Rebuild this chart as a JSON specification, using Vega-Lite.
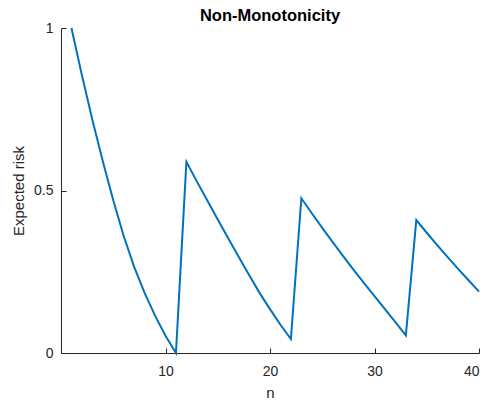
{
  "$schema": "https://vega.github.io/schema/vega-lite/v6.json",
  "autosize": "none",
  "width": 418,
  "height": 325,
  "padding": {"left": 61, "top": 28, "right": 8, "bottom": 47},
  "background": "white",
  "config": {
    "view": {"stroke": null},
    "font": "Liberation Sans",
    "axis": {
      "domainColor": "#262626",
      "tickColor": "#262626",
      "labelColor": "#262626",
      "titleColor": "#262626",
      "grid": false,
      "labelFontSize": 14,
      "titleFontSize": 15,
      "titleFontWeight": "normal",
      "tickSize": -5,
      "domainWidth": 1,
      "tickWidth": 1
    }
  },
  "title": {
    "text": "Non-Monotonicity",
    "fontSize": 16.5,
    "fontWeight": "bold",
    "color": "black",
    "anchor": "middle",
    "offset": -3
  },
  "data": {
    "values": [
      {"n": 1, "risk": 1.0},
      {"n": 2, "risk": 0.855},
      {"n": 3, "risk": 0.718},
      {"n": 4, "risk": 0.59},
      {"n": 5, "risk": 0.47},
      {"n": 6, "risk": 0.36},
      {"n": 7, "risk": 0.265},
      {"n": 8, "risk": 0.185},
      {"n": 9, "risk": 0.115},
      {"n": 10, "risk": 0.053},
      {"n": 11, "risk": 0.0},
      {"n": 12, "risk": 0.588},
      {"n": 13, "risk": 0.528},
      {"n": 14, "risk": 0.469},
      {"n": 15, "risk": 0.411},
      {"n": 16, "risk": 0.353},
      {"n": 17, "risk": 0.296},
      {"n": 18, "risk": 0.24},
      {"n": 19, "risk": 0.185},
      {"n": 20, "risk": 0.135},
      {"n": 21, "risk": 0.087},
      {"n": 22, "risk": 0.043},
      {"n": 23, "risk": 0.476},
      {"n": 24, "risk": 0.43},
      {"n": 25, "risk": 0.385},
      {"n": 26, "risk": 0.341},
      {"n": 27, "risk": 0.298},
      {"n": 28, "risk": 0.256},
      {"n": 29, "risk": 0.215},
      {"n": 30, "risk": 0.175},
      {"n": 31, "risk": 0.135},
      {"n": 32, "risk": 0.095},
      {"n": 33, "risk": 0.054},
      {"n": 34, "risk": 0.409},
      {"n": 35, "risk": 0.37},
      {"n": 36, "risk": 0.332},
      {"n": 37, "risk": 0.295},
      {"n": 38, "risk": 0.259},
      {"n": 39, "risk": 0.224},
      {"n": 40, "risk": 0.189}
    ]
  },
  "mark": {"type": "line", "color": "#0072BD", "strokeWidth": 2, "clip": false},
  "encoding": {
    "x": {
      "field": "n",
      "type": "quantitative",
      "scale": {"domain": [0, 40], "nice": false, "zero": false},
      "axis": {"values": [10, 20, 30, 40], "title": "n", "labelPadding": 16, "titlePadding": 7}
    },
    "y": {
      "field": "risk",
      "type": "quantitative",
      "scale": {"domain": [0, 1], "nice": false},
      "axis": {"values": [0, 0.5, 1], "format": "~g", "title": "Expected risk", "labelPadding": 13, "titlePadding": 7}
    }
  }
}
